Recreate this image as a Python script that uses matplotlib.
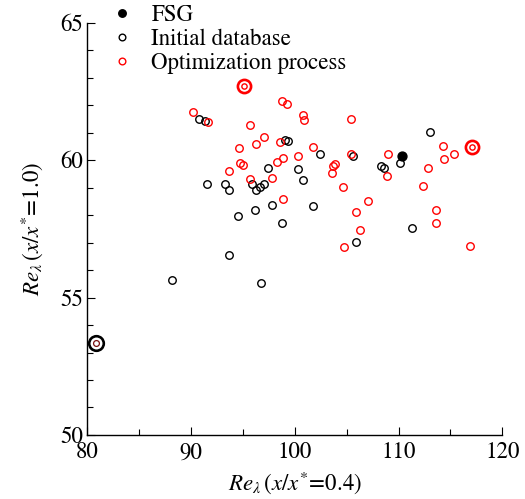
import numpy as np
import matplotlib
matplotlib.use("Agg")
import matplotlib.pyplot as plt
from matplotlib.lines import Line2D

# FSG point
fsg_x = [110.36]
fsg_y = [60.16]

# initial database (black open circles)
init_x = [90.74, 91.37, 99.10, 99.30, 97.39, 100.28, 91.54, 93.27, 93.63, 95.90,
          96.26, 96.67, 97.06, 100.79, 97.80, 96.19, 94.50, 98.74, 113.03, 102.40,
          105.61, 110.17, 108.34, 108.63, 101.73, 111.30, 105.87, 93.66, 88.13, 96.74]
init_y = [61.48, 61.44, 60.72, 60.68, 59.72, 59.68, 59.13, 59.14, 58.91, 59.13,
          58.91, 59.03, 59.12, 59.26, 58.37, 58.17, 57.95, 57.73, 61.02, 60.23,
          60.15, 59.88, 59.77, 59.71, 58.34, 57.54, 57.03, 56.56, 55.64, 55.53]

# optimization process (red open circles)
opt_x = [90.22, 91.66, 98.77, 99.22, 95.71, 97.06, 96.29, 98.54, 94.62, 100.34,
         94.72, 95.04, 98.83, 98.26, 93.69, 97.77, 95.71, 98.86, 100.79, 100.89,
         105.42, 114.26, 115.34, 114.35, 101.78, 105.42, 109.01, 108.92, 112.81, 112.36,
         103.90, 103.68, 103.61, 104.62, 107.08, 105.90, 113.64, 113.64, 106.31, 104.77,
         116.92]
opt_y = [61.75, 61.38, 62.15, 62.04, 61.28, 60.84, 60.59, 60.65, 60.44, 60.15,
         59.89, 59.83, 60.07, 59.95, 59.59, 59.36, 59.32, 58.57, 61.66, 61.47,
         61.49, 60.53, 60.22, 60.05, 60.47, 60.22, 60.21, 59.41, 59.73, 59.07,
         59.87, 59.79, 59.53, 59.01, 58.51, 58.11, 58.17, 57.73, 57.47, 56.83,
         56.86]

# highlighted points (large rings)
hl_red_x = [95.07, 117.08]
hl_red_y = [62.69, 60.48]
hl_black_x = [80.87]
hl_black_y = [53.33]

plt.rcParams['font.family'] = ['STIXGeneral', 'DejaVu Sans']
plt.rcParams['mathtext.fontset'] = 'stix'

fig = plt.figure(figsize=(5.25, 4.99), dpi=100)
ax = fig.add_axes([0.1663, 0.1283, 0.7905, 0.8262])

ms = 5.4
mew = 1.0
ax.plot(init_x, init_y, 'o', ms=ms, mfc='none', mec='black', mew=mew, clip_on=False)
ax.plot(opt_x, opt_y, 'o', ms=ms, mfc='none', mec='red', mew=mew, clip_on=False)
ax.plot(fsg_x, fsg_y, 'o', ms=ms + 1, mfc='black', mec='black', mew=mew, clip_on=False)

# highlighted rings
ax.plot(hl_red_x, hl_red_y, 'o', ms=9.5, mfc='none', mec='red', mew=1.9, clip_on=False)
ax.plot(hl_red_x, hl_red_y, 'o', ms=3.8, mfc='none', mec='red', mew=1.0, clip_on=False)
ax.plot(hl_black_x, hl_black_y, 'o', ms=10.5, mfc='none', mec='black', mew=1.9, clip_on=False)
ax.plot(hl_black_x, hl_black_y, 'o', ms=4.2, mfc='none', mec='#7a1010', mew=0.9, clip_on=False)

ax.set_xlim(80, 120)
ax.set_ylim(50, 65)
ax.set_xticks([80, 90, 100, 110, 120])
ax.set_xticks([85, 95, 105, 115], minor=True)
ax.set_yticks([50, 55, 60, 65])
ax.set_yticks([51, 52, 53, 54, 56, 57, 58, 59, 61, 62, 63, 64], minor=True)

ax.spines['top'].set_visible(False)
ax.spines['right'].set_visible(False)
for s in ['left', 'bottom']:
    ax.spines[s].set_linewidth(1.0)

ax.tick_params(which='both', direction='in', width=0.8, labelsize=16.5)
ax.tick_params(which='major', length=6)
ax.tick_params(which='minor', length=4)
ax.tick_params(axis='y', pad=3)
ax.tick_params(axis='x', pad=5)

ax.set_xlabel(r'$Re_{\lambda}\,(x/x^{*}\!=\!0.4)$', fontsize=16.5, labelpad=4)
ax.set_ylabel(r'$Re_{\lambda}\,(x/x^{*}\!=\!1.0)$', fontsize=16.5, labelpad=11)

handles = [
    Line2D([], [], ls='none', marker='o', ms=ms, mfc='black', mec='black', mew=mew),
    Line2D([], [], ls='none', marker='o', ms=ms - 0.6, mfc='none', mec='black', mew=mew),
    Line2D([], [], ls='none', marker='o', ms=ms - 0.6, mfc='none', mec='red', mew=mew),
]
labels = ['FSG', 'Initial database', 'Optimization process']
ax.legend(handles, labels, loc='upper left', bbox_to_anchor=(0.055, 1.045),
          frameon=False, fontsize=16.5, handlelength=1.0, handletextpad=0.8,
          labelspacing=0.12, borderaxespad=0, borderpad=0)

fig.savefig('out.png', dpi=100)
